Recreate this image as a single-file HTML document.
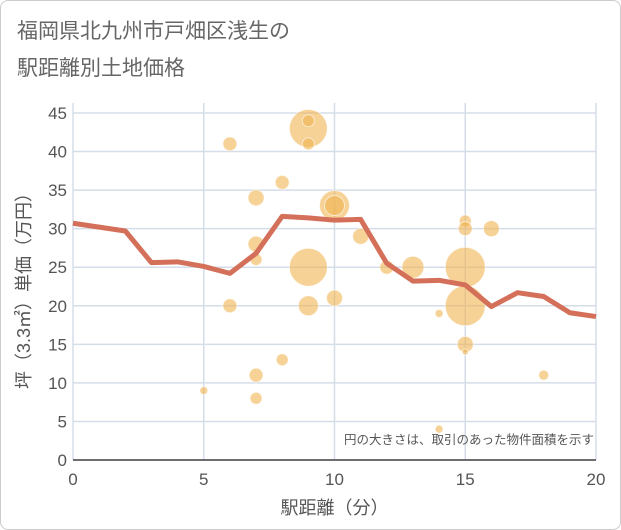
<!DOCTYPE html>
<html><head><meta charset="utf-8"><style>
body{margin:0;background:#fff;font-family:"Liberation Sans","Noto Sans CJK JP",sans-serif;}
#wrap{position:relative;width:619px;height:528px;border:1px solid #ccc;border-radius:8px;overflow:hidden;}
.title{position:absolute;left:16px;top:12px;font-size:21px;line-height:37px;color:#666;}
</style></head><body>
<div id="wrap">
<div class="title">福岡県北九州市戸畑区浅生の<br>駅距離別土地価格</div>
<svg id="chart" width="621" height="530" style="position:absolute;left:-1px;top:-1px"></svg>
</div>
<script>
const lineX=[0,1,2,3,4,5,6,7,8,9,10,11,12,13,14,15,16,17,18,19,20];
const lineY=[30.7,30.2,29.7,25.6,25.7,25.1,24.2,26.8,31.6,31.4,31.1,31.2,25.5,23.2,23.3,22.7,19.9,21.7,21.2,19.1,18.6];
const bubX=[5,6,6,7,7,7,7,7,8,8,9,9,9,9,9,10,10,10,11,12,13,14,14,15,15,15,15,15,15,16,18];
const bubY=[9,41,20,34,28,26,11,8,36,13,43,44,41,25,20,33,33,21,29,25,25,19,4,31,30,25,20,15,14,30,11];
const bubR=[4,7,7,8,8,6,7,6,7,6,19,6,6,19,10,15,10,8,8,7,11,4,4,6,7,20,20,8,3,8,5];
const xTicks=[0,5,10,15,20];
const yTicks=[0,5,10,15,20,25,30,35,40,45];
const svg=document.getElementById('chart');
const NS='http://www.w3.org/2000/svg';
const x0=73,x1=596,y0=460,y1=113;
const sx=v=>x0+(x1-x0)*v/20;
const sy=v=>y0-(y0-y1)*v/45;
function mk(t,a){const e=document.createElementNS(NS,t);for(const k in a)e.setAttribute(k,a[k]);svg.appendChild(e);return e;}
yTicks.forEach(v=>{
 const l=mk('line',{x1:x0,x2:x1,y1:sy(v),y2:sy(v),stroke:'#d5dde8','stroke-width':1.5});
 
 
 const t=mk('text',{x:x0-6,y:sy(v)+6,'text-anchor':'end','font-size':17,fill:'#555'});
 t.textContent=v;
 
 
});
xTicks.forEach(v=>{
 const l=mk('line',{x1:sx(v),x2:sx(v),y1:y1-10,y2:y0,stroke:'#d5dde8','stroke-width':1.5});
 
 
 const t=mk('text',{x:sx(v),y:y0+25,'text-anchor':'middle','font-size':17,fill:'#555'});
 t.textContent=v;
 
 
});
const ax=mk('line',{x1:x0,x2:x1,y1:y0,y2:y0,stroke:'#444','stroke-width':1.5});


bubX.forEach((v,i)=>{
 const c=mk('circle',{cx:sx(v),cy:sy(bubY[i]),r:bubR[i],fill:'rgba(240,180,80,0.6)',stroke:'rgba(255,255,255,0.6)','stroke-width':1});
 
 
});
const p=mk('polyline',{points:lineX.map((v,i)=>sx(v)+','+sy(lineY[i])).join(' '),fill:'none',stroke:'#d4705a','stroke-width':5,'stroke-linejoin':'round'});


const n=mk('text',{x:594,y:444,'text-anchor':'end','font-size':12.5,fill:'#555'});
n.textContent='円の大きさは、取引のあった物件面積を示す';


const xt=mk('text',{x:(x0+x1)/2,y:514,'text-anchor':'middle','font-size':18,fill:'#555'});
xt.textContent='駅距離（分）';


const yt=mk('text',{x:0,y:0,'text-anchor':'middle','font-size':18,fill:'#555',transform:'translate(30,'+((y0+y1)/2)+') rotate(-90)'});
yt.textContent='坪（3.3㎡）単価（万円）';


</script>
</body></html>
